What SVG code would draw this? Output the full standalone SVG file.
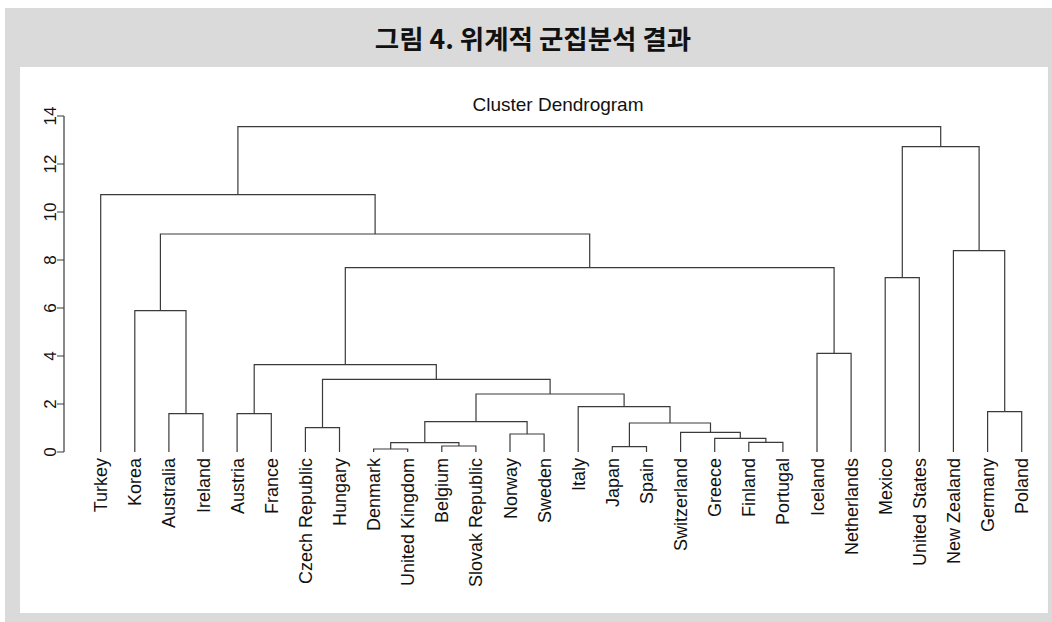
<svg xmlns="http://www.w3.org/2000/svg" width="1052" height="622" viewBox="0 0 1052 622">
<style>
.t{font-family:"Liberation Sans",Arial,sans-serif;font-size:18px;fill:#111}
.ax{font-family:"Liberation Sans",Arial,sans-serif;font-size:17px;fill:#111}
.ln{fill:none;stroke:#3a3a3a;stroke-width:1.2}
</style>
<rect x="0" y="0" width="1052" height="622" fill="#ffffff"/>
<rect x="5" y="8" width="1047" height="614" fill="#dadada"/>
<rect x="20" y="67" width="1028" height="546" fill="#ffffff"/>
<text x="533" y="49" text-anchor="middle" style="font-family:'Noto Sans CJK KR','Noto Sans',sans-serif;font-size:26.5px;font-weight:bold;fill:#111">그림 4. 위계적 군집분석 결과</text>
<text x="558" y="110.5" text-anchor="middle" class="t" style="font-size:19px">Cluster Dendrogram</text>
<g id="axis">
<path class="ln" d="M64 116V452M57 452H64M57 404H64M57 356H64M57 308H64M57 260H64M57 212H64M57 164H64M57 116H64"/>
<text class="ax" text-anchor="middle" transform="translate(56,452) rotate(-90)">0</text>
<text class="ax" text-anchor="middle" transform="translate(56,404) rotate(-90)">2</text>
<text class="ax" text-anchor="middle" transform="translate(56,356) rotate(-90)">4</text>
<text class="ax" text-anchor="middle" transform="translate(56,308) rotate(-90)">6</text>
<text class="ax" text-anchor="middle" transform="translate(56,260) rotate(-90)">8</text>
<text class="ax" text-anchor="middle" transform="translate(56,212) rotate(-90)">10</text>
<text class="ax" text-anchor="middle" transform="translate(56,164) rotate(-90)">12</text>
<text class="ax" text-anchor="middle" transform="translate(56,116) rotate(-90)">14</text>
</g>
<g id="connectors" class="ln">
<path d="M168.9 452V413.7H203V452"/>
<path d="M134.8 452V310.7H186V413.7"/>
<path d="M237.1 452V413.7H271.3V452"/>
<path d="M305.4 452V427.7H339.5V452"/>
<path d="M373.6 452V449H407.7V452"/>
<path d="M441.8 452V446H475.9V452"/>
<path d="M390.7 449V442.7H458.9V446"/>
<path d="M510 452V434H544.1V452"/>
<path d="M424.8 442.7V421.7H527.1V434"/>
<path d="M612.3 452V446.7H646.5V452"/>
<path d="M748.8 452V442.3H782.9V452"/>
<path d="M714.7 452V438.3H765.9V442.3"/>
<path d="M680.6 452V432.3H740.3V438.3"/>
<path d="M629.4 446.7V423H710.5V432.3"/>
<path d="M578.2 452V406.7H670V423"/>
<path d="M476 421.7V394H624.1V406.7"/>
<path d="M322.5 427.7V379.3H550.1V394"/>
<path d="M254.2 413.7V364.7H436.3V379.3"/>
<path d="M817 452V353.3H851.1V452"/>
<path d="M345.3 364.7V267.7H834.1V353.3"/>
<path d="M160.4 310.7V234H589.7V267.7"/>
<path d="M100.7 452V194.7H375.1V234"/>
<path d="M885.2 452V277.7H919.3V452"/>
<path d="M987.6 452V411.7H1021.7V452"/>
<path d="M953.4 452V250.7H1004.7V411.7"/>
<path d="M902.3 277.7V146.7H979.1V250.7"/>
<path d="M237.9 194.7V126.7H940.7V146.7"/>
</g>
<g id="leaf-turkey"><text class="t" text-anchor="end" transform="translate(107.2,458) rotate(-90)">Turkey</text></g>
<g id="leaf-korea"><text class="t" text-anchor="end" transform="translate(141.3,458) rotate(-90)">Korea</text></g>
<g id="leaf-australia"><text class="t" text-anchor="end" transform="translate(175.4,458) rotate(-90)">Australia</text></g>
<g id="leaf-ireland"><text class="t" text-anchor="end" transform="translate(209.5,458) rotate(-90)">Ireland</text></g>
<g id="leaf-austria"><text class="t" text-anchor="end" transform="translate(243.6,458) rotate(-90)">Austria</text></g>
<g id="leaf-france"><text class="t" text-anchor="end" transform="translate(277.8,458) rotate(-90)">France</text></g>
<g id="leaf-czech"><text class="t" text-anchor="end" transform="translate(311.9,458) rotate(-90)">Czech Republic</text></g>
<g id="leaf-hungary"><text class="t" text-anchor="end" transform="translate(346,458) rotate(-90)">Hungary</text></g>
<g id="leaf-denmark"><text class="t" text-anchor="end" transform="translate(380.1,458) rotate(-90)">Denmark</text></g>
<g id="leaf-uk"><text class="t" text-anchor="end" transform="translate(414.2,458) rotate(-90)">United Kingdom</text></g>
<g id="leaf-belgium"><text class="t" text-anchor="end" transform="translate(448.3,458) rotate(-90)">Belgium</text></g>
<g id="leaf-slovak"><text class="t" text-anchor="end" transform="translate(482.4,458) rotate(-90)">Slovak Republic</text></g>
<g id="leaf-norway"><text class="t" text-anchor="end" transform="translate(516.5,458) rotate(-90)">Norway</text></g>
<g id="leaf-sweden"><text class="t" text-anchor="end" transform="translate(550.6,458) rotate(-90)">Sweden</text></g>
<g id="leaf-italy"><text class="t" text-anchor="end" transform="translate(584.7,458) rotate(-90)">Italy</text></g>
<g id="leaf-japan"><text class="t" text-anchor="end" transform="translate(618.8,458) rotate(-90)">Japan</text></g>
<g id="leaf-spain"><text class="t" text-anchor="end" transform="translate(653,458) rotate(-90)">Spain</text></g>
<g id="leaf-switzerland"><text class="t" text-anchor="end" transform="translate(687.1,458) rotate(-90)">Switzerland</text></g>
<g id="leaf-greece"><text class="t" text-anchor="end" transform="translate(721.2,458) rotate(-90)">Greece</text></g>
<g id="leaf-finland"><text class="t" text-anchor="end" transform="translate(755.3,458) rotate(-90)">Finland</text></g>
<g id="leaf-portugal"><text class="t" text-anchor="end" transform="translate(789.4,458) rotate(-90)">Portugal</text></g>
<g id="leaf-iceland"><text class="t" text-anchor="end" transform="translate(823.5,458) rotate(-90)">Iceland</text></g>
<g id="leaf-netherlands"><text class="t" text-anchor="end" transform="translate(857.6,458) rotate(-90)">Netherlands</text></g>
<g id="leaf-mexico"><text class="t" text-anchor="end" transform="translate(891.7,458) rotate(-90)">Mexico</text></g>
<g id="leaf-us"><text class="t" text-anchor="end" transform="translate(925.8,458) rotate(-90)">United States</text></g>
<g id="leaf-nz"><text class="t" text-anchor="end" transform="translate(959.9,458) rotate(-90)">New Zealand</text></g>
<g id="leaf-germany"><text class="t" text-anchor="end" transform="translate(994.1,458) rotate(-90)">Germany</text></g>
<g id="leaf-poland"><text class="t" text-anchor="end" transform="translate(1028.2,458) rotate(-90)">Poland</text></g>
</svg>
